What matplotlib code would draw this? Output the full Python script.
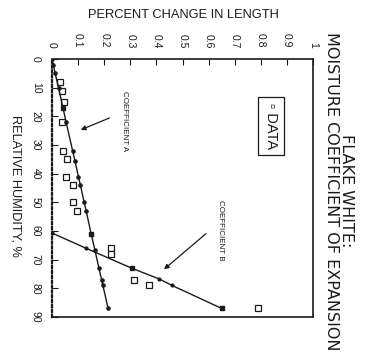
import matplotlib
matplotlib.use("Agg")
import matplotlib.pyplot as plt

plt.rcParams['font.family'] = ['Liberation Sans', 'DejaVu Sans']

# Relative humidity (%) and percent change in length
data_rh = [8, 11, 15, 22, 32, 35, 41, 44, 50, 53, 66, 68, 77, 79, 87]
data_pct = [0.03, 0.04, 0.045, 0.04, 0.043, 0.057, 0.054, 0.08, 0.08, 0.096,
            0.226, 0.226, 0.315, 0.37, 0.79]

coefA_rh = [0, 2, 5, 10, 17, 22, 32, 35.5, 41, 44, 50, 53, 61, 66.5, 73, 77, 79, 87]
coefA_pct = [0.0, 0.005, 0.012, 0.025, 0.042, 0.054, 0.079, 0.088, 0.101, 0.109,
             0.123, 0.131, 0.150, 0.164, 0.180, 0.190, 0.195, 0.215]
coefA_sq_rh = [17, 61]
coefA_sq_pct = [0.042, 0.150]

coefB_rh = [60.7, 66, 73, 76.7, 79, 87]
coefB_pct = [0.0, 0.13, 0.306, 0.41, 0.46, 0.65]
coefB_sq_rh = [73, 87]
coefB_sq_pct = [0.306, 0.65]

pct_ticks = [0, 0.1, 0.2, 0.3, 0.4, 0.5, 0.6, 0.7, 0.8, 0.9, 1.0]
pct_labels = ['0', '0.1', '0.2', '0.3', '0.4', '0.5', '0.6', '0.7', '0.8', '0.9', '1']
rh_ticks = [0, 10, 20, 30, 40, 50, 60, 70, 80, 90]

ink = '#1a1a1a'

fig = plt.figure(figsize=(3.68, 3.60), dpi=100)
ax = fig.add_axes([52/368, 1 - 317/360, (313-52)/368, (317-59)/360])
ax.set_xlim(0, 1.0)
ax.set_ylim(90, 0)

# data squares
ax.plot(data_pct, data_rh, linestyle='none', marker='s', markersize=3.8,
        markerfacecolor='white', markeredgecolor=ink, markeredgewidth=0.9)
# coefficient A
ax.plot(coefA_pct, coefA_rh, color=ink, lw=1.0, marker='o', markersize=2.3)
ax.plot(coefA_sq_pct, coefA_sq_rh, linestyle='none', marker='s', markersize=3.3, color=ink)
# coefficient B
ax.plot(coefB_pct, coefB_rh, color=ink, lw=1.0, marker='o', markersize=2.0)
ax.plot(coefB_sq_pct, coefB_sq_rh, linestyle='none', marker='s', markersize=3.3, color=ink)

# axes styling
ax.xaxis.tick_top()
ax.set_xticks(pct_ticks)
ax.set_xticklabels(pct_labels, rotation=-90, va='bottom', ha='center')
ax.set_yticks(rh_ticks)
ax.set_yticklabels([str(v) for v in rh_ticks], rotation=-90, va='center', ha='right')
ax.tick_params(axis='x', direction='in', length=4, width=0.8, labelsize=7.5, pad=8, colors=ink)
ax.tick_params(axis='y', direction='in', length=4, width=0.8, labelsize=7.5, pad=8, colors=ink)
for side in ['top', 'right', 'bottom']:
    ax.spines[side].set_linewidth(1.2)
    ax.spines[side].set_color(ink)
ax.spines['left'].set_linewidth(1.6)
ax.spines['left'].set_linestyle((0, (1, 1.2)))
ax.spines['left'].set_color(ink)

# axis titles
fig.text(183/368, 1 - 15/360, 'PERCENT CHANGE IN LENGTH', fontsize=9.3,
         ha='center', va='center', color=ink)
fig.text(15/368, 1 - 186/360, 'RELATIVE HUMIDITY, %', fontsize=9.2, rotation=-90,
         ha='center', va='center', color=ink)
fig.text(339/368, 1 - 191/360, 'FLAKE WHITE:\nMOISTURE COEFFICIENT OF EXPANSION',
         fontsize=11.5, rotation=-90, ha='center', va='center', multialignment='center',
         linespacing=1.05, color=ink, family='DejaVu Sans')

# legend box
ax.text(0.84, 23.5, '\u25ab DATA', rotation=-90, fontsize=10.5, ha='center', va='center',
        color=ink, bbox=dict(boxstyle='square,pad=0.4', facecolor='white',
                             edgecolor=ink, linewidth=0.9))

# annotations
ax.text(0.276, 21.6, 'COEFFICIENT A', rotation=-90, fontsize=5.8, ha='center', va='center',
        color=ink)
ax.annotate('', xy=(0.10, 25.1), xytext=(0.23, 20.2),
            arrowprops=dict(arrowstyle='-|>', color=ink, lw=0.9, mutation_scale=7))
ax.text(0.644, 59.6, 'COEFFICIENT B', rotation=-90, fontsize=5.8, ha='center', va='center',
        color=ink)
ax.annotate('', xy=(0.421, 74), xytext=(0.598, 60.3),
            arrowprops=dict(arrowstyle='-|>', color=ink, lw=0.9, mutation_scale=7))

fig.savefig('out.png', dpi=100, facecolor='white')
